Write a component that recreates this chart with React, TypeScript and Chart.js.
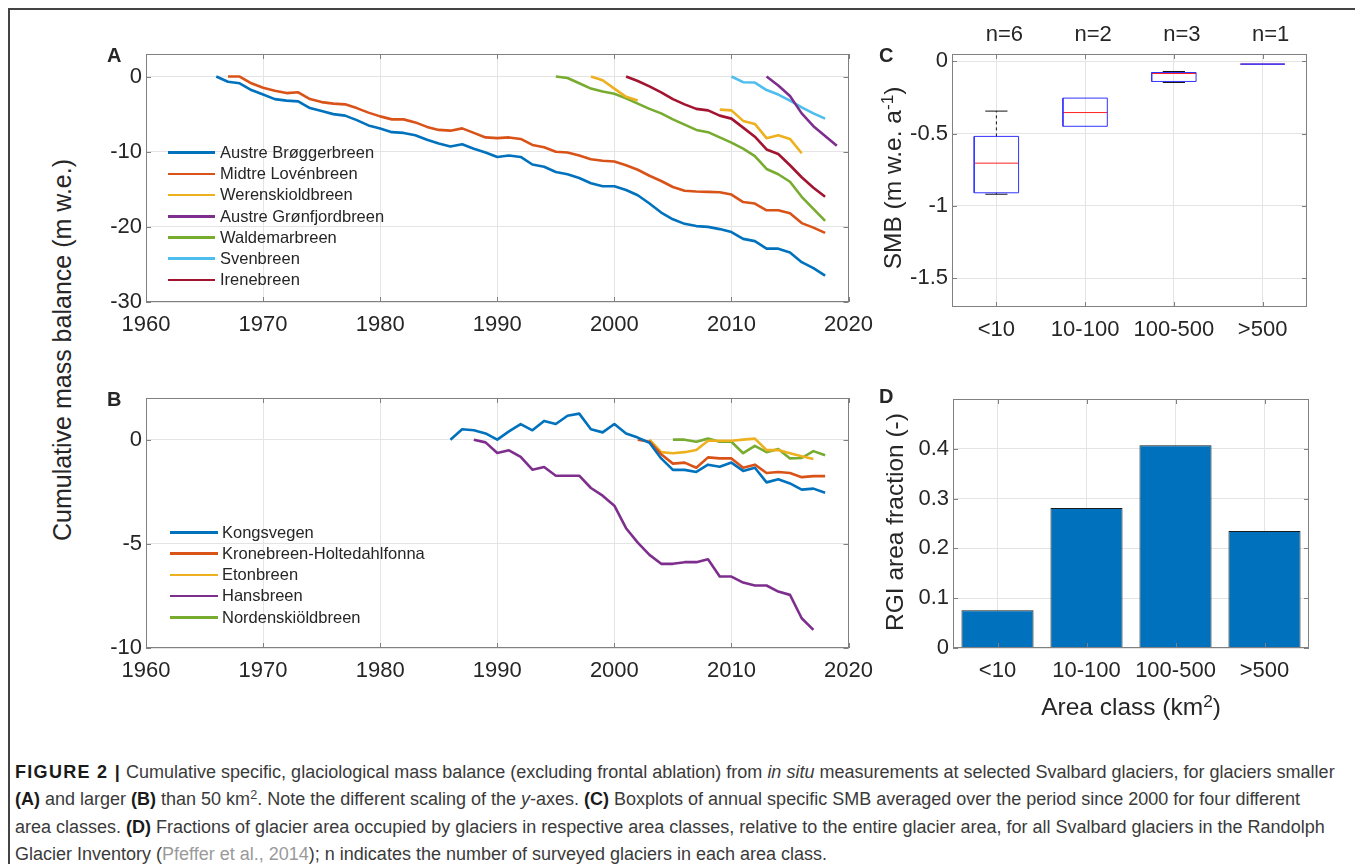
import React, { useEffect, useRef } from 'react';
import { Chart, registerables } from 'chart.js';

Chart.register(...registerables);

const FONT = '"Liberation Sans", Arial, Helvetica, sans-serif';
const TEXT = '#262626';
const AXIS = '#808080';
const GRID = '#e4e4e4';

// ---------------- Panel A data (glaciers < 50 km2) ----------------
const austreBroggerbreenStart = 1966;
const austreBroggerbreen = [0, -0.7, -0.9, -1.8, -2.4, -3.0, -3.2, -3.3, -4.2, -4.6, -5.0, -5.2, -5.8, -6.5, -6.9, -7.4, -7.5, -7.8, -8.4, -8.9, -9.3, -9.0, -9.6, -10.1, -10.7, -10.5, -10.7, -11.7, -12.0, -12.7, -13.0, -13.5, -14.2, -14.6, -14.6, -15.1, -15.8, -16.9, -18.1, -19.0, -19.6, -19.9, -20.0, -20.3, -20.7, -21.6, -21.9, -22.9, -22.9, -23.4, -24.7, -25.5, -26.5];
const midtreLovenbreenStart = 1967;
const midtreLovenbreen = [0, 0, -0.9, -1.5, -1.9, -2.2, -2.1, -3.0, -3.4, -3.6, -3.7, -4.2, -4.8, -5.3, -5.7, -5.7, -6.1, -6.7, -7.1, -7.2, -6.9, -7.5, -8.1, -8.2, -8.1, -8.3, -9.1, -9.4, -10.0, -10.1, -10.5, -11.0, -11.2, -11.3, -11.8, -12.4, -13.2, -13.9, -14.7, -15.2, -15.3, -15.35, -15.4, -15.7, -16.7, -16.9, -17.8, -17.8, -18.2, -19.5, -20.1, -20.8];
const werenskioldbreenStart = 1998;
const werenskioldbreen = [0, -0.5, -1.6, -2.7, -3.2, null, null, null, null, null, null, -4.4, -4.5, -5.9, -6.3, -8.2, -7.8, -8.3, -10.2];
const austreGronfjordbreenStart = 2013;
const austreGronfjordbreen = [0, -1.2, -2.6, -4.9, -6.6, -7.9, -9.2];
const waldemarbreenStart = 1995;
const waldemarbreen = [0, -0.2, -0.9, -1.6, -2.0, -2.3, -2.9, -3.6, -4.3, -4.9, -5.7, -6.4, -7.1, -7.4, -8.1, -8.8, -9.6, -10.6, -12.3, -13.0, -14.0, -16.0, -17.6, -19.2];
const svenbreenStart = 2010;
const svenbreen = [0, -0.75, -0.8, -1.8, -2.4, -3.2, -4.1, -4.9, -5.6];
const irenebreenStart = 2001;
const irenebreen = [0, -0.6, -1.3, -2.1, -3.0, -3.7, -4.3, -4.5, -5.2, -5.6, -6.8, -8.0, -9.7, -10.3, -11.8, -13.4, -14.8, -16.0];

// ---------------- Panel B data (glaciers > 50 km2) ----------------
const kongsvegenStart = 1986;
const kongsvegen = [0, 0.5, 0.45, 0.3, 0.0, 0.4, 0.75, 0.45, 0.9, 0.75, 1.15, 1.25, 0.5, 0.35, 0.75, 0.3, 0.1, -0.15, -0.9, -1.45, -1.45, -1.55, -1.2, -1.3, -1.1, -1.5, -1.35, -2.05, -1.9, -2.1, -2.4, -2.35, -2.55];
const kronebreenStart = 2002;
const kronebreen = [0, -0.1, -0.7, -1.15, -1.1, -1.35, -0.85, -0.9, -0.9, -1.35, -1.2, -1.6, -1.55, -1.6, -1.8, -1.75, -1.75];
const etonbreenStart = 2003;
const etonbreen = [0, -0.6, -0.65, -0.6, -0.5, -0.05, -0.05, -0.05, 0, 0.05, -0.5, -0.5, -0.65, -0.8, -0.93];
const hansbreenStart = 1988;
const hansbreen = [0, -0.13, -0.64, -0.51, -0.83, -1.44, -1.31, -1.73, -1.73, -1.73, -2.32, -2.69, -3.17, -4.25, -4.94, -5.53, -5.96, -5.96, -5.88, -5.88, -5.74, -6.57, -6.57, -6.86, -7.0, -7.0, -7.29, -7.45, -8.57, -9.13];
const nordenskioldbreenStart = 2005;
const nordenskioldbreen = [0, 0, -0.1, 0.05, -0.1, -0.1, -0.65, -0.3, -0.6, -0.45, -0.9, -0.88, -0.55, -0.75];

// ---------------- Axes ticks ----------------
const yearTicks = [1960, 1970, 1980, 1990, 2000, 2010, 2020];
const yTicksA = [-30, -20, -10, 0];
const yTicksB = [-10, -5, 0];

// ---------------- Panels C and D ----------------
const areaClasses = ['<10', '10-100', '100-500', '>500'];
const surveyedCounts = ['n=6', 'n=2', 'n=3', 'n=1'];
const smbQ1 = [-0.91, -0.45, -0.14, -0.02];
const smbQ3 = [-0.52, -0.255, -0.078, -0.02];
const smbMedian = [-0.705, -0.355, -0.085, -0.02];
const smbWhiskerLow = [-0.92, -0.45, -0.147, -0.02];
const smbWhiskerHigh = [-0.345, -0.255, -0.071, -0.02];
const yTicksC = [-1.5, -1, -0.5, 0];
const rgiAreaFraction = [0.076, 0.281, 0.407, 0.235];
const yTicksD = [0, 0.1, 0.2, 0.3, 0.4];

const MATLAB = ['#0072BD', '#D95319', '#EDB120', '#7E2F8E', '#77AC30', '#4DBEEE', '#A2142F'];

const seriesA = [
  { name: 'Austre Brøggerbreen', start: austreBroggerbreenStart, values: austreBroggerbreen, color: MATLAB[0] },
  { name: 'Midtre Lovénbreen', start: midtreLovenbreenStart, values: midtreLovenbreen, color: MATLAB[1] },
  { name: 'Werenskioldbreen', start: werenskioldbreenStart, values: werenskioldbreen, color: MATLAB[2] },
  { name: 'Austre Grønfjordbreen', start: austreGronfjordbreenStart, values: austreGronfjordbreen, color: MATLAB[3] },
  { name: 'Waldemarbreen', start: waldemarbreenStart, values: waldemarbreen, color: MATLAB[4] },
  { name: 'Svenbreen', start: svenbreenStart, values: svenbreen, color: MATLAB[5] },
  { name: 'Irenebreen', start: irenebreenStart, values: irenebreen, color: MATLAB[6] },
];
const seriesB = [
  { name: 'Kongsvegen', start: kongsvegenStart, values: kongsvegen, color: MATLAB[0] },
  { name: 'Kronebreen-Holtedahlfonna', start: kronebreenStart, values: kronebreen, color: MATLAB[1] },
  { name: 'Etonbreen', start: etonbreenStart, values: etonbreen, color: MATLAB[2] },
  { name: 'Hansbreen', start: hansbreenStart, values: hansbreen, color: MATLAB[3] },
  { name: 'Nordenskiöldbreen', start: nordenskioldbreenStart, values: nordenskioldbreen, color: MATLAB[4] },
];

const toXY = (start: number, vals: (number | null)[]) => vals.map((v, i) => ({ x: start + i, y: v }));

const fixWidth = (w: number) => (s: any) => { s.width = w; };
const fixHeight = (h: number) => (s: any) => { s.height = h; };
const setTicks = (vals: number[]) => (s: any) => { s.ticks = vals.map((v) => ({ value: v })); };
const tickFont = { family: FONT, size: 22, lineHeight: 1 };

const boxPlugin = {
  id: 'matlabBox',
  afterDraw(chart: any) {
    const { ctx, chartArea: a } = chart;
    const L = 5;
    const xs = chart.scales.x;
    const ys = chart.scales.y;
    ctx.save();
    ctx.strokeStyle = AXIS;
    ctx.lineWidth = 1;
    ctx.beginPath();
    xs.ticks.forEach((_: any, i: number) => {
      const p = Math.round(xs.getPixelForTick(i)) + 0.5;
      ctx.moveTo(p, a.bottom); ctx.lineTo(p, a.bottom - L);
      ctx.moveTo(p, a.top); ctx.lineTo(p, a.top + L);
    });
    ys.ticks.forEach((_: any, i: number) => {
      const p = Math.round(ys.getPixelForTick(i)) + 0.5;
      ctx.moveTo(a.left, p); ctx.lineTo(a.left + L, p);
      ctx.moveTo(a.right, p); ctx.lineTo(a.right - L, p);
    });
    ctx.stroke();
    ctx.strokeRect(Math.round(a.left) + 0.5, Math.round(a.top) + 0.5, Math.round(a.right - a.left) - 1, Math.round(a.bottom - a.top) - 1);
    ctx.restore();
  },
};

const baseOptions = (padding: any) => ({
  responsive: false,
  animation: false,
  devicePixelRatio: 1,
  layout: { padding },
  plugins: { legend: { display: false }, tooltip: { enabled: false }, title: { display: false } },
});

const lineSeriesConfig = (series: any[], yMin: number, yMax: number, yTicks: number[], pad: any, xH: number, yW: number) => ({
  type: 'line',
  data: {
    datasets: series.map((s) => ({
      label: s.name,
      data: toXY(s.start, s.values),
      borderColor: s.color,
      backgroundColor: s.color,
      borderWidth: 2.6,
      pointRadius: 0,
      tension: 0,
      spanGaps: false,
      fill: false,
      borderJoinStyle: 'round',
    })),
  },
  options: {
    ...baseOptions(pad),
    scales: {
      x: {
        type: 'linear', min: 1960, max: 2020,
        afterBuildTicks: setTicks(yearTicks), afterFit: fixHeight(xH),
        grid: { color: GRID, drawTicks: false }, border: { display: false },
        ticks: { font: tickFont, color: TEXT, padding: 12, maxRotation: 0, callback: (v: number) => String(v) },
      },
      y: {
        type: 'linear', min: yMin, max: yMax,
        afterBuildTicks: setTicks(yTicks), afterFit: fixWidth(yW),
        grid: { color: GRID, drawTicks: false }, border: { display: false },
        ticks: { font: tickFont, color: TEXT, padding: 4, callback: (v: number) => String(v) },
      },
    },
  },
  plugins: [boxPlugin],
});

const configA = () => lineSeriesConfig(seriesA, -30, 3, yTicksA, { left: 0, top: 34, right: 28, bottom: 0 }, 48, 56);
const configB = () => lineSeriesConfig(seriesB, -10, 2, yTicksB, { left: 0, top: 33, right: 29, bottom: 0 }, 47, 56);

const BOX_HALF = 0.25;
const CAP_HALF = 0.125;
const gap = (x: number) => ({ x, y: null });

const configC = () => {
  const boxes: any[] = [];
  const medians: any[] = [];
  const whiskers: any[] = [];
  const caps: any[] = [];
  areaClasses.forEach((_, i) => {
    const c = i + 1;
    boxes.push({ x: c - BOX_HALF, y: smbQ1[i] }, { x: c + BOX_HALF, y: smbQ1[i] }, { x: c + BOX_HALF, y: smbQ3[i] }, { x: c - BOX_HALF, y: smbQ3[i] }, { x: c - BOX_HALF, y: smbQ1[i] }, gap(c));
    medians.push({ x: c - BOX_HALF, y: smbMedian[i] }, { x: c + BOX_HALF, y: smbMedian[i] }, gap(c));
    if (smbWhiskerHigh[i] > smbQ3[i]) {
      whiskers.push({ x: c, y: smbQ3[i] }, { x: c, y: smbWhiskerHigh[i] }, gap(c));
      caps.push({ x: c - CAP_HALF, y: smbWhiskerHigh[i] }, { x: c + CAP_HALF, y: smbWhiskerHigh[i] }, gap(c));
    }
    if (smbWhiskerLow[i] < smbQ1[i]) {
      whiskers.push({ x: c, y: smbQ1[i] }, { x: c, y: smbWhiskerLow[i] }, gap(c));
      caps.push({ x: c - CAP_HALF, y: smbWhiskerLow[i] }, { x: c + CAP_HALF, y: smbWhiskerLow[i] }, gap(c));
    }
  });
  const ds = (label: string, data: any[], color: string, dash: number[] = []) => ({
    label, data, borderColor: color, backgroundColor: color, borderWidth: 1, borderDash: dash,
    pointRadius: 0, tension: 0, spanGaps: false, fill: false,
  });
  return {
    type: 'line',
    data: {
      datasets: [
        ds('box', boxes, '#3333ff'),
        ds('whisker', whiskers, '#111111', [3, 3]),
        ds('cap', caps, '#111111'),
        ds('median', medians, '#ff2020'),
      ],
    },
    options: {
      ...baseOptions({ left: 0, top: 0, right: 28, bottom: 0 }),
      scales: {
        x: {
          type: 'linear', min: 0.5, max: 4.5,
          afterBuildTicks: setTicks([1, 2, 3, 4]), afterFit: fixHeight(48),
          grid: { color: GRID, drawTicks: false }, border: { display: false },
          ticks: { font: tickFont, color: TEXT, padding: 12, maxRotation: 0, callback: (v: number) => areaClasses[Math.round(v) - 1] },
        },
        x2: {
          type: 'linear', position: 'top', min: 0.5, max: 4.5,
          afterBuildTicks: setTicks([1, 2, 3, 4]), afterFit: fixHeight(44),
          grid: { display: false, drawTicks: false }, border: { display: false },
          ticks: { font: tickFont, color: TEXT, padding: 8, labelOffset: 8, maxRotation: 0, callback: (v: number) => surveyedCounts[Math.round(v) - 1] },
        },
        y: {
          type: 'linear', min: -1.7, max: 0.05,
          afterBuildTicks: setTicks(yTicksC), afterFit: fixWidth(52),
          grid: { color: GRID, drawTicks: false }, border: { display: false },
          ticks: { font: tickFont, color: TEXT, padding: 4, callback: (v: number) => String(v) },
        },
      },
    },
    plugins: [boxPlugin],
  };
};

const configD = () => ({
  type: 'bar',
  data: {
    labels: areaClasses,
    datasets: [{
      label: 'RGI area fraction',
      data: rgiAreaFraction,
      backgroundColor: '#0072BD',
      borderColor: '#1c1c1c',
      borderWidth: 1,
      categoryPercentage: 1,
      barPercentage: 0.81,
    }],
  },
  options: {
    ...baseOptions({ left: 0, top: 29, right: 26, bottom: 0 }),
    scales: {
      x: {
        type: 'category', offset: true, afterFit: fixHeight(52),
        grid: { color: GRID, drawTicks: false, offset: false }, border: { display: false },
        ticks: { font: tickFont, color: TEXT, padding: 12, maxRotation: 0 },
      },
      y: {
        type: 'linear', min: 0, max: 0.5,
        afterBuildTicks: setTicks(yTicksD), afterFit: fixWidth(53),
        grid: { color: GRID, drawTicks: false }, border: { display: false },
        ticks: { font: tickFont, color: TEXT, padding: 4, callback: (v: number) => String(v) },
      },
    },
  },
  plugins: [boxPlugin],
});

function ChartCanvas({ left, top, width, height, config }: any) {
  const ref = useRef<HTMLCanvasElement>(null);
  useEffect(() => {
    const chart = new Chart(ref.current as HTMLCanvasElement, config());
    return () => chart.destroy();
  }, []);
  return (
    <canvas ref={ref} width={width} height={height}
      style={{ position: 'absolute', left, top, width, height, display: 'block' }} />
  );
}

function Legend({ left, top, rowH, lineW, gapW, series }: any) {
  return (
    <div style={{ position: 'absolute', left, top }}>
      {series.map((s: any) => (
        <div key={s.name} style={{ display: 'flex', alignItems: 'center', height: rowH, whiteSpace: 'nowrap' }}>
          <div style={{ width: lineW, height: 2.6, background: s.color, marginRight: gapW }} />
          <span style={{ fontSize: 16.5, color: TEXT, lineHeight: `${rowH}px` }}>{s.name}</span>
        </div>
      ))}
    </div>
  );
}

function Label({ x, y, size, bold, children, rotate, center }: any) {
  const style: any = {
    position: 'absolute', left: x, top: y, fontSize: size, lineHeight: 1, whiteSpace: 'nowrap',
    color: TEXT, fontWeight: bold ? 'bold' : 'normal',
  };
  if (rotate) style.transform = 'translate(-50%, -50%) rotate(-90deg)';
  else if (center) style.transform = 'translate(-50%, -50%)';
  else style.transform = 'translate(0, -50%)';
  return <div style={style}>{children}</div>;
}

const capSup: any = { fontSize: '0.7em', position: 'relative', top: '-0.45em', lineHeight: 0 };

function CaptionLine({ top, children }: any) {
  return (
    <div style={{ position: 'absolute', left: 15, top, fontSize: 18, lineHeight: '19px', color: '#3a3a3a', whiteSpace: 'nowrap' }}>
      {children}
    </div>
  );
}

const B = ({ children, spacing }: any) => <b style={{ color: '#1a1a1a', letterSpacing: spacing }}>{children}</b>;

export default function App() {
  return (
    <div style={{ position: 'fixed', left: 0, top: 0, width: 1355, height: 864, background: '#ffffff', fontFamily: FONT, overflow: 'hidden' }}>
      <div style={{ position: 'absolute', left: 8, top: 8, width: 1347, height: 2, background: '#444' }} />
      <div style={{ position: 'absolute', left: 8, top: 8, width: 2, height: 856, background: '#444' }} />

      <ChartCanvas left={90} top={20} width={795} height={330} config={configA} />
      <ChartCanvas left={90} top={365} width={795} height={330} config={configB} />
      <ChartCanvas left={900} top={10} width={435} height={345} config={configC} />
      <ChartCanvas left={900} top={370} width={435} height={330} config={configD} />

      <Legend left={168} top={142.1} rowH={21.2} lineW={47} gapW={5} series={seriesA} />
      <Legend left={170} top={521.7} rowH={21.25} lineW={48} gapW={4} series={seriesB} />

      <Label x={107} y={55} size={20} bold>A</Label>
      <Label x={107} y={399} size={20} bold>B</Label>
      <Label x={879} y={55} size={20} bold>C</Label>
      <Label x={879} y={396} size={20} bold>D</Label>

      <Label x={62} y={350} size={25} rotate>Cumulative mass balance (m w.e.)</Label>
      <Label x={893} y={178} size={24.5} rotate>SMB (m w.e. a<span style={capSup}>-1</span>)</Label>
      <Label x={895} y={522} size={24.5} rotate>RGI area fraction (-)</Label>
      <Label x={1131} y={707} size={24.5} center>Area class (km<span style={capSup}>2</span>)</Label>

      <CaptionLine top={763}>
        <B spacing="1.3px">FIGURE 2 |</B> Cumulative specific, glaciological mass balance (excluding frontal ablation) from <i>in situ</i> measurements at selected Svalbard glaciers, for glaciers smaller
      </CaptionLine>
      <CaptionLine top={790}>
        <B>(A)</B> and larger <B>(B)</B> than 50 km<span style={capSup}>2</span>. Note the different scaling of the <i>y</i>-axes. <B>(C)</B> Boxplots of annual specific SMB averaged over the period since 2000 for four different
      </CaptionLine>
      <CaptionLine top={818}>
        area classes. <B>(D)</B> Fractions of glacier area occupied by glaciers in respective area classes, relative to the entire glacier area, for all Svalbard glaciers in the Randolph
      </CaptionLine>
      <CaptionLine top={845}>
        Glacier Inventory (<span style={{ color: '#9a9a9a' }}>Pfeffer et al., 2014</span>); n indicates the number of surveyed glaciers in each area class.
      </CaptionLine>
    </div>
  );
}
